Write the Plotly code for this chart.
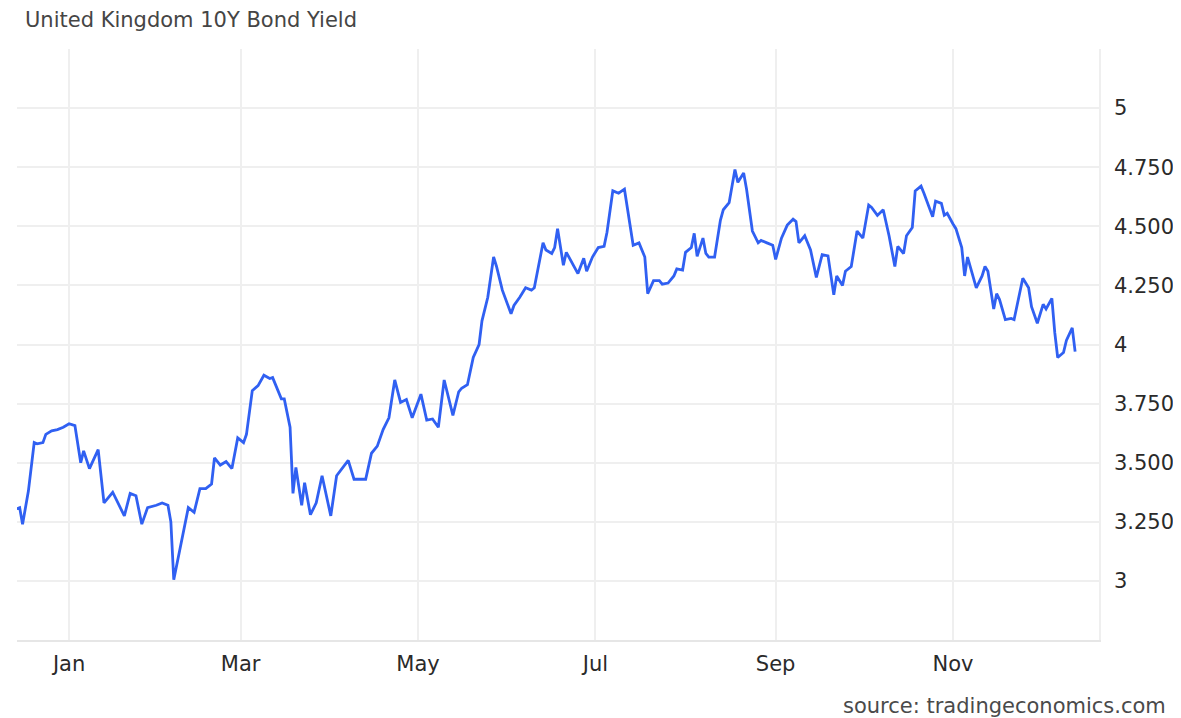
import plotly.graph_objects as go

title_text = "United Kingdom 10Y Bond Yield"
source_text = "source: tradingeconomics.com"

dates = [
    "2022-12-14", "2022-12-15", "2022-12-16", "2022-12-18", "2022-12-20", "2022-12-21",
    "2022-12-23", "2022-12-24", "2022-12-26", "2022-12-28", "2022-12-30",
    "2023-01-01", "2023-01-03", "2023-01-05", "2023-01-06", "2023-01-08", "2023-01-11",
    "2023-01-13", "2023-01-16", "2023-01-18", "2023-01-20", "2023-01-22", "2023-01-24",
    "2023-01-26", "2023-01-28", "2023-01-31",
    "2023-02-02", "2023-02-04", "2023-02-05", "2023-02-06", "2023-02-09", "2023-02-11",
    "2023-02-13", "2023-02-15", "2023-02-17", "2023-02-19", "2023-02-20", "2023-02-22",
    "2023-02-24", "2023-02-26", "2023-02-28",
    "2023-03-02", "2023-03-03", "2023-03-05", "2023-03-07", "2023-03-09", "2023-03-11",
    "2023-03-12", "2023-03-15", "2023-03-16", "2023-03-18", "2023-03-19", "2023-03-20",
    "2023-03-22", "2023-03-23", "2023-03-25", "2023-03-27", "2023-03-29",
    "2023-04-01", "2023-04-03", "2023-04-07", "2023-04-09", "2023-04-10", "2023-04-13",
    "2023-04-15", "2023-04-17", "2023-04-19", "2023-04-21", "2023-04-23", "2023-04-25",
    "2023-04-27", "2023-04-29",
    "2023-05-02", "2023-05-04", "2023-05-06", "2023-05-08", "2023-05-10", "2023-05-13",
    "2023-05-15", "2023-05-16", "2023-05-18", "2023-05-20", "2023-05-22", "2023-05-23",
    "2023-05-25", "2023-05-27", "2023-05-28", "2023-05-30",
    "2023-06-02", "2023-06-03", "2023-06-05", "2023-06-07", "2023-06-09", "2023-06-10",
    "2023-06-13", "2023-06-14", "2023-06-16", "2023-06-17", "2023-06-18", "2023-06-20",
    "2023-06-21", "2023-06-23", "2023-06-25", "2023-06-27", "2023-06-28", "2023-06-30",
    "2023-07-02", "2023-07-04", "2023-07-05", "2023-07-07", "2023-07-09", "2023-07-11",
    "2023-07-14", "2023-07-16", "2023-07-18", "2023-07-19", "2023-07-21", "2023-07-23",
    "2023-07-24", "2023-07-26", "2023-07-28", "2023-07-29", "2023-07-31",
    "2023-08-01", "2023-08-03", "2023-08-04", "2023-08-05", "2023-08-07", "2023-08-08",
    "2023-08-09", "2023-08-11", "2023-08-13", "2023-08-14", "2023-08-16", "2023-08-17",
    "2023-08-18", "2023-08-19", "2023-08-21", "2023-08-22", "2023-08-24", "2023-08-26",
    "2023-08-27", "2023-08-29", "2023-08-31",
    "2023-09-01", "2023-09-03", "2023-09-05", "2023-09-07", "2023-09-08", "2023-09-09",
    "2023-09-11", "2023-09-13", "2023-09-15", "2023-09-17", "2023-09-19", "2023-09-21",
    "2023-09-22", "2023-09-24", "2023-09-25", "2023-09-27", "2023-09-29",
    "2023-10-01", "2023-10-03", "2023-10-04", "2023-10-06", "2023-10-08", "2023-10-10",
    "2023-10-12", "2023-10-13", "2023-10-15", "2023-10-16", "2023-10-18", "2023-10-19",
    "2023-10-21", "2023-10-22", "2023-10-25", "2023-10-26", "2023-10-28", "2023-10-29",
    "2023-10-30",
    "2023-11-01", "2023-11-02", "2023-11-04", "2023-11-05", "2023-11-06", "2023-11-08",
    "2023-11-09", "2023-11-11", "2023-11-12", "2023-11-13", "2023-11-15", "2023-11-16",
    "2023-11-17", "2023-11-19", "2023-11-21", "2023-11-22", "2023-11-24", "2023-11-25",
    "2023-11-27", "2023-11-28", "2023-11-30",
    "2023-12-02", "2023-12-03", "2023-12-05", "2023-12-06", "2023-12-07", "2023-12-09",
    "2023-12-10", "2023-12-12", "2023-12-13",
]

yields = [
    3.305, 3.31, 3.24, 3.38, 3.585, 3.58,
    3.585, 3.62, 3.635, 3.64, 3.65,
    3.665, 3.657, 3.50, 3.55, 3.475, 3.555,
    3.33, 3.375, 3.325, 3.275, 3.37, 3.36,
    3.24, 3.31, 3.32,
    3.33, 3.32, 3.25, 3.005, 3.18, 3.31,
    3.29, 3.39, 3.39, 3.41, 3.52, 3.49,
    3.505, 3.475, 3.605,
    3.585, 3.62, 3.805, 3.826, 3.87, 3.856,
    3.86, 3.77, 3.77, 3.65, 3.37, 3.48,
    3.32, 3.415, 3.28, 3.33, 3.445,
    3.275, 3.445, 3.51, 3.43, 3.43, 3.43,
    3.54, 3.57, 3.64, 3.69, 3.85, 3.755,
    3.767, 3.69,
    3.79, 3.68, 3.685, 3.65, 3.85, 3.70,
    3.80, 3.815, 3.83, 3.945, 4.00, 4.10,
    4.20, 4.37, 4.33, 4.23,
    4.13, 4.165, 4.20, 4.24, 4.23, 4.24,
    4.43, 4.40, 4.385, 4.41, 4.49, 4.335,
    4.39, 4.345, 4.30, 4.365, 4.31, 4.37,
    4.41, 4.415, 4.475, 4.65, 4.64, 4.657,
    4.42, 4.43, 4.37, 4.215, 4.27, 4.27,
    4.255, 4.26, 4.29, 4.32, 4.315,
    4.39, 4.41, 4.47, 4.373, 4.45, 4.385,
    4.37, 4.37, 4.525, 4.57, 4.60, 4.665,
    4.74, 4.686, 4.725, 4.657, 4.48, 4.43,
    4.44, 4.43, 4.42,
    4.36, 4.45, 4.505, 4.53, 4.52, 4.43,
    4.46, 4.40, 4.284, 4.38, 4.375, 4.21,
    4.29, 4.25, 4.31, 4.33, 4.48,
    4.45, 4.59, 4.58, 4.546, 4.57, 4.46,
    4.33, 4.415, 4.385, 4.46, 4.495, 4.65,
    4.67, 4.64, 4.54, 4.606, 4.597, 4.547,
    4.555,
    4.51, 4.49, 4.41, 4.29, 4.37, 4.28,
    4.24, 4.29, 4.33, 4.31, 4.15, 4.215,
    4.19, 4.105, 4.11, 4.105, 4.22, 4.28,
    4.24, 4.16, 4.09,
    4.17, 4.15, 4.195, 4.05, 3.945, 3.966,
    4.017, 4.07, 3.97,
]

y_tick_vals = [2.75, 3.0, 3.25, 3.5, 3.75, 4.0, 4.25, 4.5, 4.75, 5.0, 5.25]
y_tick_text = ["", "3", "3.250", "3.500", "3.750", "4", "4.250", "4.500", "4.750", "5", ""]

fig = go.Figure()
fig.add_trace(go.Scatter(
    x=dates, y=yields, mode="lines",
    line=dict(color="#3060f2", width=2.8),
    hoverinfo="x+y", showlegend=False,
))

font_family = "DejaVu Sans, Liberation Sans, Arial, sans-serif"

fig.update_layout(
    width=1181, height=718,
    margin=dict(l=9, r=90, t=41, b=86),
    paper_bgcolor="white", plot_bgcolor="white",
    font=dict(family=font_family, color="#2a2a2a", size=21),
    annotations=[
        dict(text=title_text, xref="paper", yref="paper", x=0, y=1.0, xshift=6, yshift=29,
             xanchor="left", yanchor="middle", showarrow=False,
             font=dict(size=21, color="#454545", family=font_family)),
        dict(text=source_text, xref="paper", yref="paper", x=1.0, y=0, xshift=69, yshift=-66,
             xanchor="right", yanchor="middle", showarrow=False,
             font=dict(size=21, color="#4a4a4a", family=font_family)),
    ],
)

fig.update_xaxes(
    type="date",
    range=["2022-12-14 02:00", "2023-12-21 05:00"],
    tick0="2023-01-01", dtick="M2", tickformat="%b",
    showgrid=True, gridcolor="#efefef", gridwidth=1.5,
    showline=True, linecolor="#e6e6e6", linewidth=2,
    ticks="", ticklabelstandoff=4,
    tickfont=dict(size=21, color="#2a2a2a"),
    zeroline=False,
)
fig.update_yaxes(
    range=[2.75, 5.25], side="right",
    tickvals=y_tick_vals, ticktext=y_tick_text,
    showgrid=True, gridcolor="#efefef", gridwidth=1.5,
    showline=True, linecolor="#efefef", linewidth=1.5, mirror=False,
    ticks="", ticklabelstandoff=9,
    tickfont=dict(size=21, color="#2a2a2a"),
    zeroline=False,
)

fig.write_html("out.html")
